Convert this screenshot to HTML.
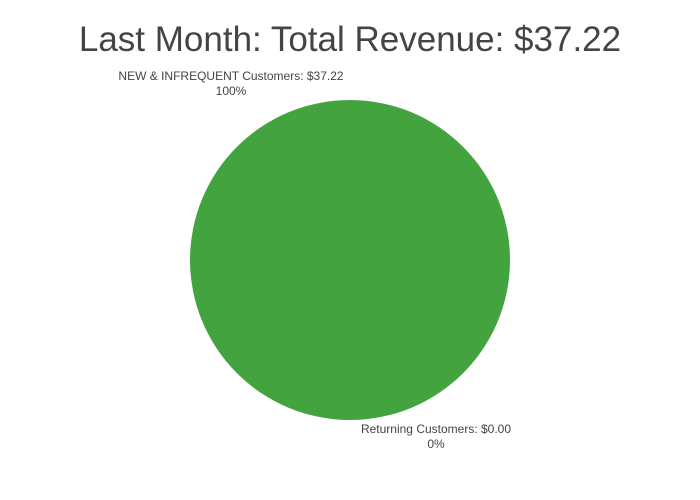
<!DOCTYPE html>
<html><head><style>
body{margin:0;background:#fff;}
svg{display:block;font-family:"Liberation Sans",sans-serif;}
</style></head><body>
<svg width="700" height="500" viewBox="0 0 700 500">
<text x="350" y="51" text-anchor="middle" font-size="35" fill="#444">Last Month: Total Revenue: $37.22</text>
<circle cx="350" cy="260" r="160" fill="#43a43f"/>
<text x="231" y="80" text-anchor="middle" font-size="12" fill="#444">NEW &amp; INFREQUENT Customers: $37.22</text>
<text x="231" y="95" text-anchor="middle" font-size="12" fill="#444">100%</text>
<text x="436" y="433" text-anchor="middle" font-size="12" fill="#444">Returning Customers: $0.00</text>
<text x="436" y="448" text-anchor="middle" font-size="12" fill="#444">0%</text>
</svg>
</body></html>
